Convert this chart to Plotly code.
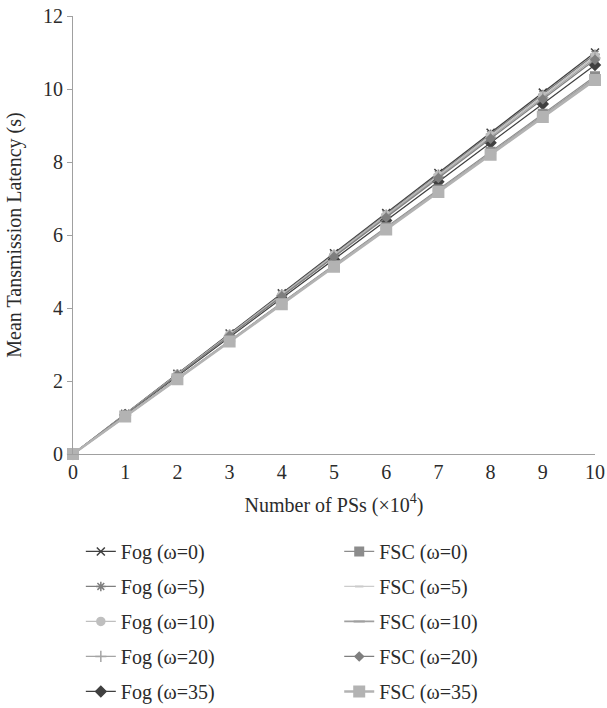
import plotly.graph_objects as go

x_vals = [0, 1, 2, 3, 4, 5, 6, 7, 8, 9, 10]

fog_0 = [0, 1.10, 2.20, 3.30, 4.40, 5.50, 6.60, 7.70, 8.80, 9.90, 11.00]
fog_5 = [0, 1.09, 2.19, 3.28, 4.38, 5.47, 6.57, 7.66, 8.76, 9.85, 10.95]
fog_10 = [0, 1.09, 2.18, 3.27, 4.36, 5.45, 6.54, 7.63, 8.72, 9.81, 10.90]
fog_20 = [0, 1.08, 2.17, 3.25, 4.34, 5.42, 6.51, 7.59, 8.68, 9.76, 10.85]
fog_35 = [0, 1.07, 2.13, 3.20, 4.26, 5.33, 6.40, 7.46, 8.53, 9.59, 10.66]
fsc_0 = [0, 1.04, 2.07, 3.11, 4.14, 5.18, 6.21, 7.25, 8.28, 9.32, 10.35]
fsc_5 = [0, 1.03, 2.06, 3.09, 4.12, 5.15, 6.18, 7.21, 8.24, 9.27, 10.30]
fsc_10 = [0, 1.03, 2.06, 3.09, 4.12, 5.15, 6.18, 7.21, 8.24, 9.27, 10.30]
fsc_20 = [0, 1.08, 2.16, 3.24, 4.32, 5.40, 6.48, 7.56, 8.64, 9.72, 10.80]
fsc_35 = [0, 1.03, 2.05, 3.08, 4.10, 5.13, 6.15, 7.18, 8.20, 9.23, 10.25]

fog_names = ["Fog (ω=0)", "Fog (ω=5)", "Fog (ω=10)", "Fog (ω=20)", "Fog (ω=35)"]
fsc_names = ["FSC (ω=0)", "FSC (ω=5)", "FSC (ω=10)", "FSC (ω=20)", "FSC (ω=35)"]

FONT = "Liberation Serif"
TXT = "#2b2b2b"
FS = 20

fog_styles = [
    dict(color="#3f3f3f", symbol="x-thin-open", size=8, lw=1.3),
    dict(color="#7f7f7f", symbol="asterisk-open", size=8, lw=1.3),
    dict(color="#bfbfbf", symbol="circle", size=8, lw=1.3),
    dict(color="#a5a5a5", symbol="cross-thin-open", size=8, lw=1.3),
    dict(color="#404040", symbol="diamond", size=8, lw=1.3),
]
fsc_styles = [
    dict(color="#8c8c8c", symbol="square", size=8, lw=1.3),
    dict(color="#cccccc", symbol="line-ew-open", size=6, lw=1.3),
    dict(color="#a0a0a0", symbol="line-ew-open", size=8, lw=1.8),
    dict(color="#7f7f7f", symbol="diamond", size=6, lw=1.3),
    dict(color="#b3b3b3", symbol="square", size=10, lw=2.5),
]

fig = go.Figure()
for name, ys, st in zip(fog_names, [fog_0, fog_5, fog_10, fog_20, fog_35], fog_styles):
    fig.add_trace(go.Scatter(
        x=x_vals, y=ys, name=name, mode="lines+markers",
        line=dict(color=st["color"], width=st["lw"]),
        marker=dict(symbol=st["symbol"], size=st["size"], color=st["color"],
                    line=dict(color=st["color"], width=1.5)),
        legend="legend", legendgroup=name,
    ))
for name, ys, st in zip(fsc_names, [fsc_0, fsc_5, fsc_10, fsc_20, fsc_35], fsc_styles):
    fig.add_trace(go.Scatter(
        x=x_vals, y=ys, name=name, mode="lines+markers",
        line=dict(color=st["color"], width=st["lw"]),
        marker=dict(symbol=st["symbol"], size=st["size"], color=st["color"],
                    line=dict(color=st["color"], width=2)),
        legend="legend2", legendgroup=name,
    ))

legend_common = dict(
    font=dict(family=FONT, size=FS, color=TXT),
    bgcolor="rgba(0,0,0,0)",
    traceorder="grouped",
    tracegroupgap=6,
    yanchor="top",
    xanchor="left",
    itemwidth=30,
)

fig.update_layout(
    width=607, height=708,
    margin=dict(l=73, r=12, t=16, b=254, autoexpand=False),
    paper_bgcolor="white", plot_bgcolor="white",
    font=dict(family=FONT, size=FS, color=TXT),
    showlegend=True,
    legend=dict(x=0.015, y=-0.178, **legend_common),
    legend2=dict(x=0.51, y=-0.178, **legend_common),
    xaxis=dict(
        range=[0, 10], tickvals=x_vals, ticktext=[str(v) for v in x_vals],
        showgrid=False, zeroline=False, showline=True, linecolor="#a0a0a0", linewidth=1.2,
        ticks="", tickfont=dict(family=FONT, size=FS, color=TXT),
        title=dict(text="Number of PSs (×10<sup>4</sup>)", font=dict(family=FONT, size=FS, color=TXT)),
    ),
    yaxis=dict(
        range=[0, 12], tickvals=[0, 2, 4, 6, 8, 10, 12],
        showgrid=False, zeroline=False, showline=True, linecolor="#a0a0a0", linewidth=1.2,
        ticks="outside", ticklen=5, tickcolor="#a0a0a0",
        tickfont=dict(family=FONT, size=FS, color=TXT),
        title=dict(text="Mean Tansmission Latency (s)", font=dict(family=FONT, size=FS, color=TXT)),
    ),
)

fig.update_traces(cliponaxis=False)
fig.write_html("out.html")
